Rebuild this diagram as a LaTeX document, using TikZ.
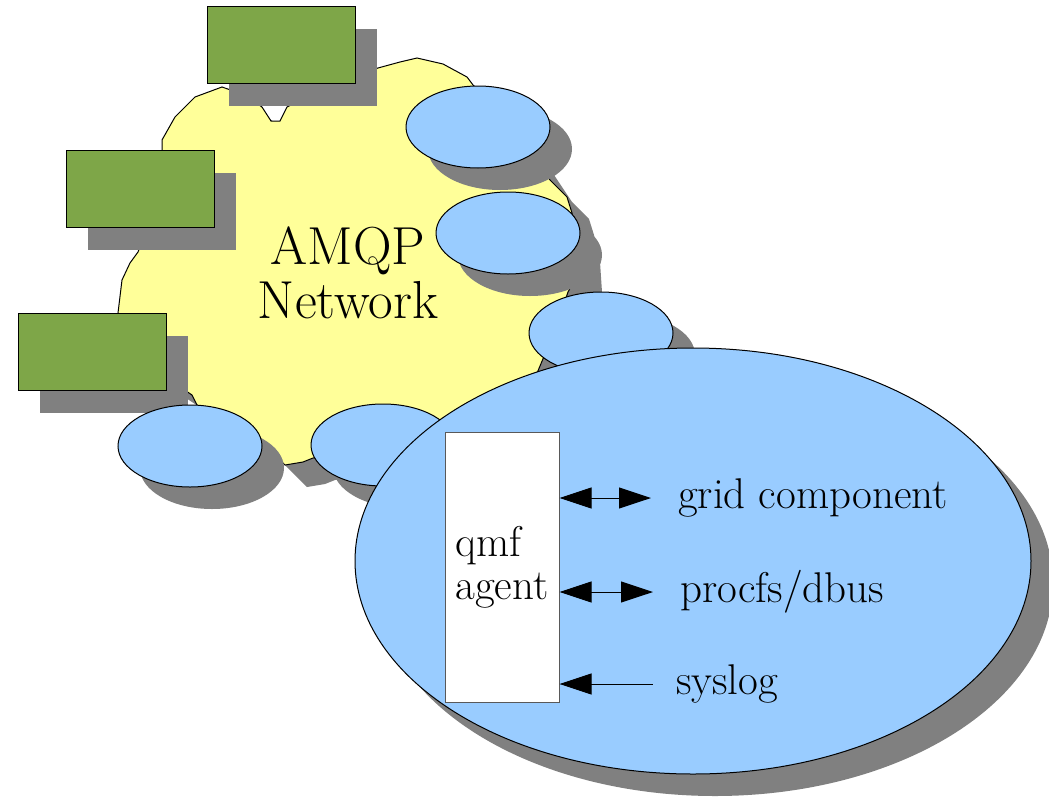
\documentclass[tikz,border=0pt]{standalone}
\usetikzlibrary{arrows.meta}
\usetikzlibrary{shapes.geometric}
\usetikzlibrary{shadows}
\usepackage{xcolor}

\definecolor{cloudyellow}{RGB}{255,255,153}
\definecolor{hostblue}{RGB}{153,204,255}
\definecolor{brokergreen}{RGB}{126,166,72}
\definecolor{shadowgrey}{RGB}{128,128,128}

\tikzset{
  shadowed/.style={drop shadow={shadow xshift=22pt,shadow yshift=-22pt,fill=shadowgrey,opacity=1}},
  broker/.style={draw=black,line width=1pt,fill=brokergreen,minimum width=148pt,minimum height=77pt,inner sep=0pt,shadowed},
  port/.style={ellipse,draw=black,line width=1pt,fill=hostblue,minimum width=144pt,minimum height=82pt,inner sep=0pt,shadowed},
  host/.style={ellipse,draw=black,line width=1pt,fill=hostblue,minimum width=676pt,minimum height=426pt,inner sep=0pt,shadowed},
  agentbox/.style={draw=black!65,line width=1pt,fill=white,minimum width=114pt,minimum height=270pt,align=left,font=\fontsize{43}{43}\selectfont},
  itemtext/.style={anchor=west,inner sep=0pt,font=\fontsize{43}{43}\selectfont},
  flow/.style={line width=1pt,{Triangle[length=32pt,width=21pt]}-{Triangle[length=32pt,width=21pt]}},
  inflow/.style={line width=1pt,{Triangle[length=32pt,width=21pt]}-}
}

\begin{document}
\begin{tikzpicture}[x=1pt,y=-1pt]

      \useasboundingbox (0,0) rectangle (1049,798);

      % Cloud
      \draw[line width=1pt,fill=cloudyellow,shadowed] (118,313) -- (122,280) -- (130,263) -- (138,252)
        -- (152,215) -- (160,175) -- (162,150) -- (162,140) -- (175,117) -- (195,97) -- (222,87)
        -- (245,95) -- (262,107) -- (271,121) -- (280,121) -- (287,107) -- (330,85) -- (378,68)
        -- (400,62) -- (417,58) -- (443,64) -- (467,77) -- (473,85) -- (510,120) -- (540,165)
        -- (550,180) -- (567,197) -- (572,213) -- (578,240) -- (580,270) -- (568,292) -- (555,330)
        -- (530,390) -- (480,430) -- (420,445) -- (360,450) -- (313,458) -- (303,462) -- (285,465)
        -- (265,445) -- (240,425) -- (197,405) -- (192,395) -- (170,380) -- (125,350) -- cycle;
      \node[align=center,font=\fontsize{53.5}{54}\selectfont] (amqp) at (348,273) {AMQP\\Network};

      % Brokers
      \foreach \n/\x/\y in {1/281/45,2/140/189,3/92/352}
      {
        \node[broker] (broker\n) at (\x,\y) {};
      }

      % Ports
      \foreach \n/\x/\y in {1/478/127,2/508/233,3/601/333,4/190/446,5/383/445}
      {
        \node[port] (port\n) at (\x,\y) {};
      }

      % Host
      \node[host] (host) at (693,561) {};
      \node[agentbox] (agent) at (502,567) {qmf\\agent};

      \node[itemtext] (grid) at (678,498) {grid component};
      \node[itemtext] (procfs) at (680,592) {procfs/dbus};
      \node[itemtext] (syslog) at (676,684) {syslog};

      \draw[flow] (agent.east |- grid.west) -- ([xshift=-27pt]grid.west);
      \draw[flow] (agent.east |- procfs.west) -- ([xshift=-27pt]procfs.west);
      \draw[inflow] (agent.east |- syslog.west) -- ([xshift=-23pt]syslog.west);

\end{tikzpicture}
\end{document}
